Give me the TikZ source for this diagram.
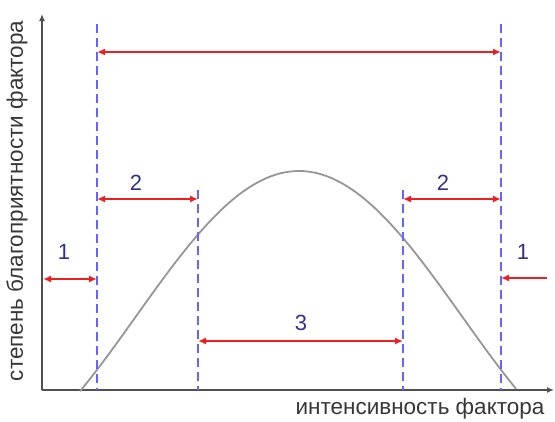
\documentclass[tikz,border=0pt]{standalone}
\usepackage{fontspec}
\setmainfont{Liberation Sans}
\usetikzlibrary{arrows.meta}
\definecolor{axisgray}{RGB}{80,80,80}
\definecolor{dashblue}{RGB}{100,100,255}
\definecolor{arrred}{RGB}{240,30,30}
\definecolor{numblue}{RGB}{50,50,140}
\definecolor{curvegray}{RGB}{150,150,150}
\definecolor{txtgray}{RGB}{55,55,55}
\tikzset{
  axisline/.style={draw=axisgray, line width=2.2pt, -{Latex[length=7pt,width=6pt]}},
  bound/.style={draw=dashblue, line width=1.8pt, dash pattern=on 9pt off 5pt},
  spanarrow/.style={draw=arrred, line width=2.4pt, {Latex[length=8pt,width=7pt]}-{Latex[length=8pt,width=7pt]}},
  onearrow/.style={draw=arrred, line width=2.4pt, -{Latex[length=8pt,width=7pt]}},
  num/.style={text=numblue, font=\fontsize{22}{22}\selectfont, inner sep=0pt},
  axlabel/.style={text=txtgray, font=\fontsize{22.5}{22.5}\selectfont, inner sep=0pt},
}
\begin{document}
\begin{tikzpicture}[x=1pt,y=-1pt]
\useasboundingbox (0,0) rectangle (555,421);
% axes
\coordinate (O) at (42,390);
\coordinate (ytop) at (42,14);
\coordinate (xend) at (554,390);
\draw[axisline] (O) -- (ytop);
\draw[axisline] (O) -- (xend);
% curve
\draw[curvegray, line width=1.8pt] plot[domain=-219:217, samples=120, smooth] ({299+\x},{390-146*(cos(0.5505*\x)+0.5)});
% boundaries
\coordinate (b1t) at (97,24);  \coordinate (b1b) at (97,390);
\coordinate (b2t) at (198,190); \coordinate (b2b) at (198,390);
\coordinate (b3t) at (403,190); \coordinate (b3b) at (403,390);
\coordinate (b4t) at (501,24);  \coordinate (b4b) at (501,390);
\draw[bound] (b1t) -- (b1b);
\draw[bound] (b2t) -- (b2b);
\draw[bound] (b3t) -- (b3b);
\draw[bound] (b4t) -- (b4b);
% arrows
\coordinate (topL) at (97,52); \coordinate (topR) at (501,52);
\draw[spanarrow] (topL) -- (topR);
\coordinate (a2L1) at (97,199); \coordinate (a2L2) at (198,199);
\draw[spanarrow] (a2L1) -- (a2L2);
\coordinate (a2R1) at (403,199); \coordinate (a2R2) at (501,199);
\draw[spanarrow] (a2R1) -- (a2R2);
\coordinate (a1L1) at (43,279); \coordinate (a1L2) at (97,279);
\draw[spanarrow] (a1L1) -- (a1L2);
\coordinate (a1R1) at (547,278); \coordinate (a1R2) at (501,278);
\draw[onearrow] (a1R1) -- (a1R2);
\coordinate (a3L) at (198,341); \coordinate (a3R) at (403,341);
\draw[spanarrow] (a3L) -- (a3R);
% labels
\node[num] (n1l) at (64,252) {1};
\node[num] (n1r) at (523,252) {1};
\node[num] (n2l) at (136,183) {2};
\node[num] (n2r) at (443,183) {2};
\node[num] (n3) at (301,323) {3};
\node[axlabel, rotate=90] (ylab) at (17,201) {степень благоприятности фактора};
\node[axlabel] (xlab) at (420,409) {интенсивность фактора};
\end{tikzpicture}
\end{document}
